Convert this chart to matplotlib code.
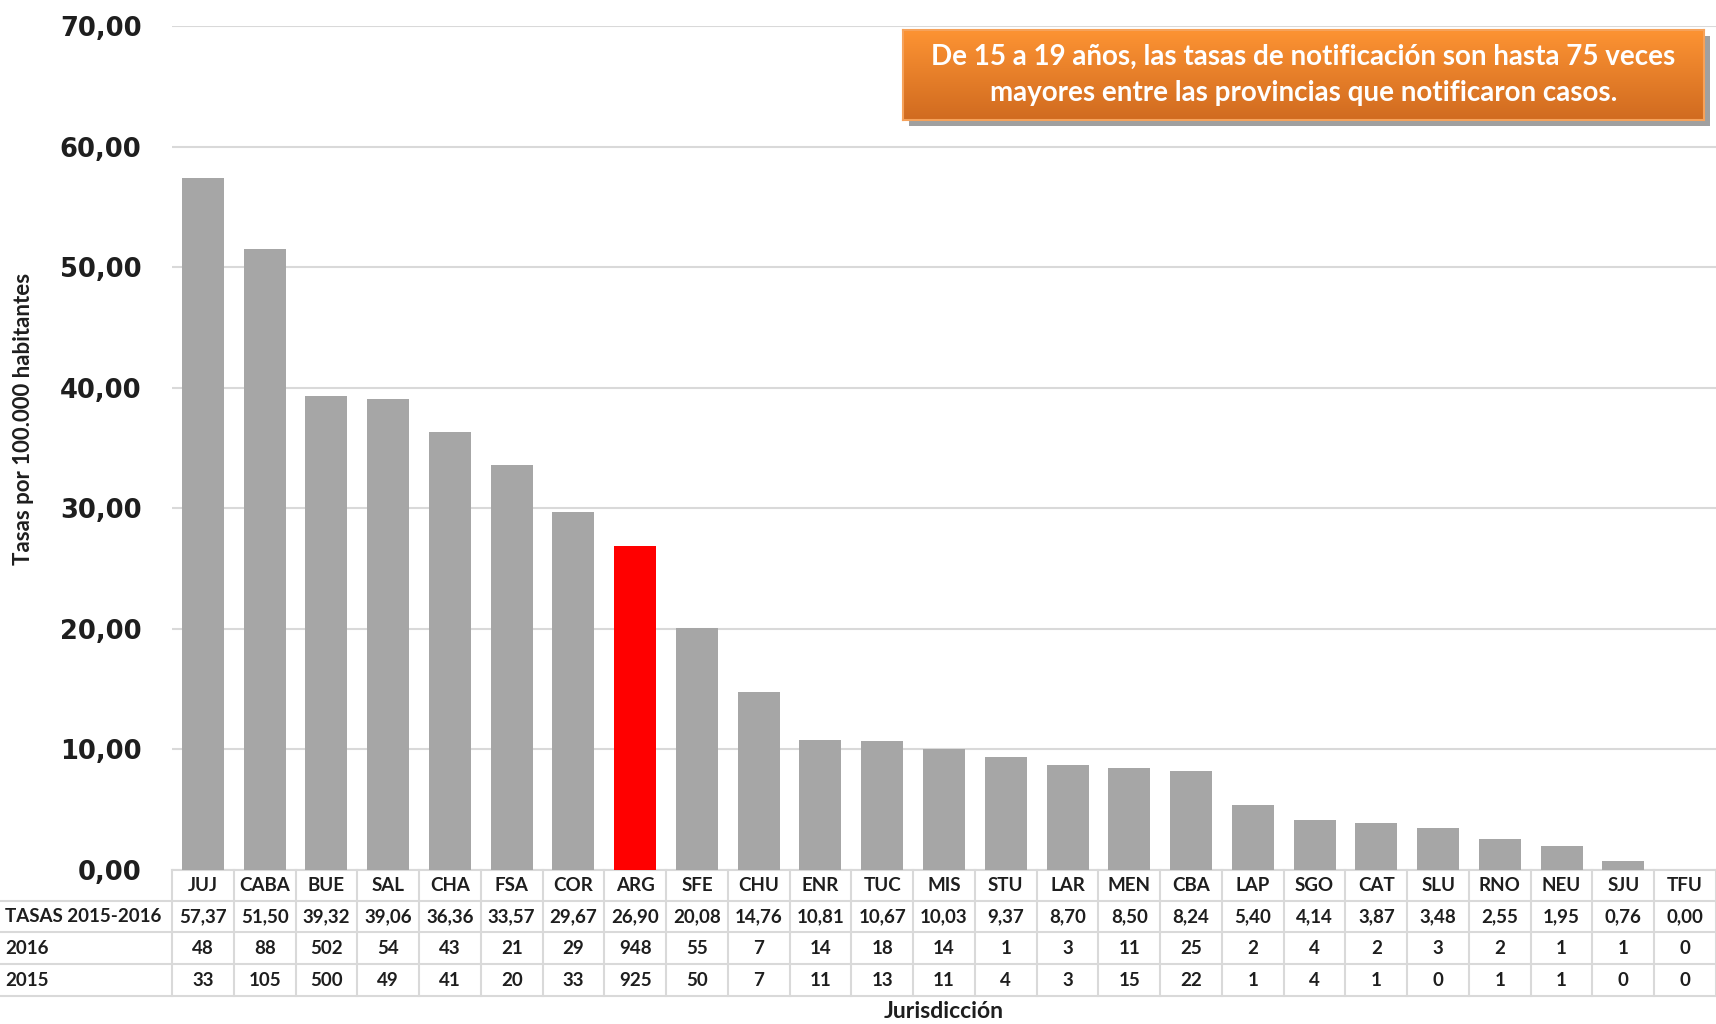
import numpy as np
import matplotlib
matplotlib.use("Agg")
import matplotlib.pyplot as plt
import matplotlib.transforms as mtransforms
from matplotlib.ticker import FuncFormatter

cats = ["JUJ", "CABA", "BUE", "SAL", "CHA", "FSA", "COR", "ARG", "SFE", "CHU",
        "ENR", "TUC", "MIS", "STU", "LAR", "MEN", "CBA", "LAP", "SGO", "CAT",
        "SLU", "RNO", "NEU", "SJU", "TFU"]
tasas = [57.37, 51.50, 39.32, 39.06, 36.36, 33.57, 29.67, 26.90, 20.08, 14.76,
         10.81, 10.67, 10.03, 9.37, 8.70, 8.50, 8.24, 5.40, 4.14, 3.87,
         3.48, 2.55, 1.95, 0.76, 0.00]
casos_2016 = [48, 88, 502, 54, 43, 21, 29, 948, 55, 7, 14, 18, 14, 1, 3, 11,
              25, 2, 4, 2, 3, 2, 1, 1, 0]
casos_2015 = [33, 105, 500, 49, 41, 20, 33, 925, 50, 7, 11, 13, 11, 4, 3, 15,
              22, 1, 4, 1, 0, 1, 1, 0, 0]
row_labels = ["TASAS 2015-2016", "2016", "2015"]
destacado = "ARG"

W, H = 1716, 1024
FONT = "Lato"
GRID = "#d9d9d9"
TXT = "#1e1e1e"


def coma(v):
    return f"{v:.2f}".replace(".", ",")


def fy(px):
    return 1 - px / H


fig = plt.figure(figsize=(W / 100, H / 100), dpi=100)
ax = fig.add_axes([172 / W, fy(870), 1 - 172 / W, fy(26) - fy(870)])
ax.patch.set_alpha(0)

x = np.arange(len(cats))
colors = ["#ff0000" if c == destacado else "#a6a6a6" for c in cats]
ax.bar(x, tasas, width=0.68, color=colors, zorder=3)

ax.set_xlim(-0.5, len(cats) - 0.5)
ax.set_ylim(0, 70)
ax.set_yticks(np.arange(0, 71, 10))
ax.yaxis.set_major_formatter(FuncFormatter(lambda v, p: coma(v)))
ax.set_xticks([])
ax.tick_params(axis="y", length=0, pad=22, labelsize=18.5, labelcolor=TXT)
for lab in ax.get_yticklabels():
    lab.set_fontweight("bold")
    lab.set_family("DejaVu Sans")
ax.grid(axis="y", color=GRID, lw=1.5, zorder=0)
for s in ax.spines.values():
    s.set_visible(False)

# --- tabla de datos bajo el eje ---
tr = mtransforms.blended_transform_factory(ax.transData, fig.transFigure)
edges = [870, 901, 932, 964, 996]
for i, e in enumerate(edges):
    x0 = -0.5 if i == 0 else -0.5 - 172 / (W - 172) * len(cats)
    ax.plot([x0, len(cats) - 0.5], [fy(e), fy(e)], color=GRID, lw=1.5,
            transform=tr, clip_on=False)
for k in range(len(cats) + 1):
    ax.plot([k - 0.5, k - 0.5], [fy(870), fy(996)], color=GRID, lw=1.5,
            transform=tr, clip_on=False)

rows = [cats, [coma(v) for v in tasas], casos_2016, casos_2015]
for r, vals in enumerate(rows):
    yc = fy((edges[r] + edges[r + 1]) / 2)
    for i, v in enumerate(vals):
        ax.text(i, yc, str(v), transform=tr, ha="center", va="center",
                fontsize=13.5, fontweight="bold", family=FONT, color=TXT)
    if r > 0:
        fig.text(5 / W, yc, row_labels[r - 1], ha="left", va="center",
                 fontsize=13.5, fontweight="bold", family=FONT, color=TXT)

fig.text((172 + W) / 2 / W, fy(1011), "Jurisdicción", ha="center", va="center",
         fontsize=16.5, fontweight="bold", family=FONT, color=TXT)
fig.text(24 / W, fy(419), "Tasas por 100.000 habitantes", rotation=90,
         ha="center", va="center", fontsize=16, fontweight="bold", family=FONT,
         color=TXT)

# --- recuadro naranja con sombra ---
bx0, bx1, by0, by1 = 903, 1704, 30, 120
sax = fig.add_axes([(bx0 + 6) / W, fy(by1 + 6), (bx1 - bx0) / W, (by1 - by0) / H])
sax.set_facecolor("#a0a0a0")
sax.set_xticks([]); sax.set_yticks([])
for s in sax.spines.values():
    s.set_visible(False)
bax = fig.add_axes([bx0 / W, fy(by1), (bx1 - bx0) / W, (by1 - by0) / H])
grad = np.linspace(0, 1, 100).reshape(-1, 1)
top = np.array([0xfd, 0x93, 0x33]) / 255
bot = np.array([0xd0, 0x6b, 0x20]) / 255
img = top[None, None, :] * (1 - grad[:, :, None]) + bot[None, None, :] * grad[:, :, None]
bax.imshow(img, aspect="auto", extent=[0, 1, 0, 1])
bax.set_xticks([]); bax.set_yticks([])
for s in bax.spines.values():
    s.set_color("#f6a25a"); s.set_linewidth(1.5)
bax.text(0.5, 0.5, "De 15 a 19 años, las tasas de notificación son hasta 75 veces\n"
         "mayores entre las provincias que notificaron casos.",
         ha="center", va="center", color="white", fontsize=20, fontweight="bold",
         family=FONT, linespacing=1.45, transform=bax.transAxes)

fig.savefig("out.png", dpi=100)
